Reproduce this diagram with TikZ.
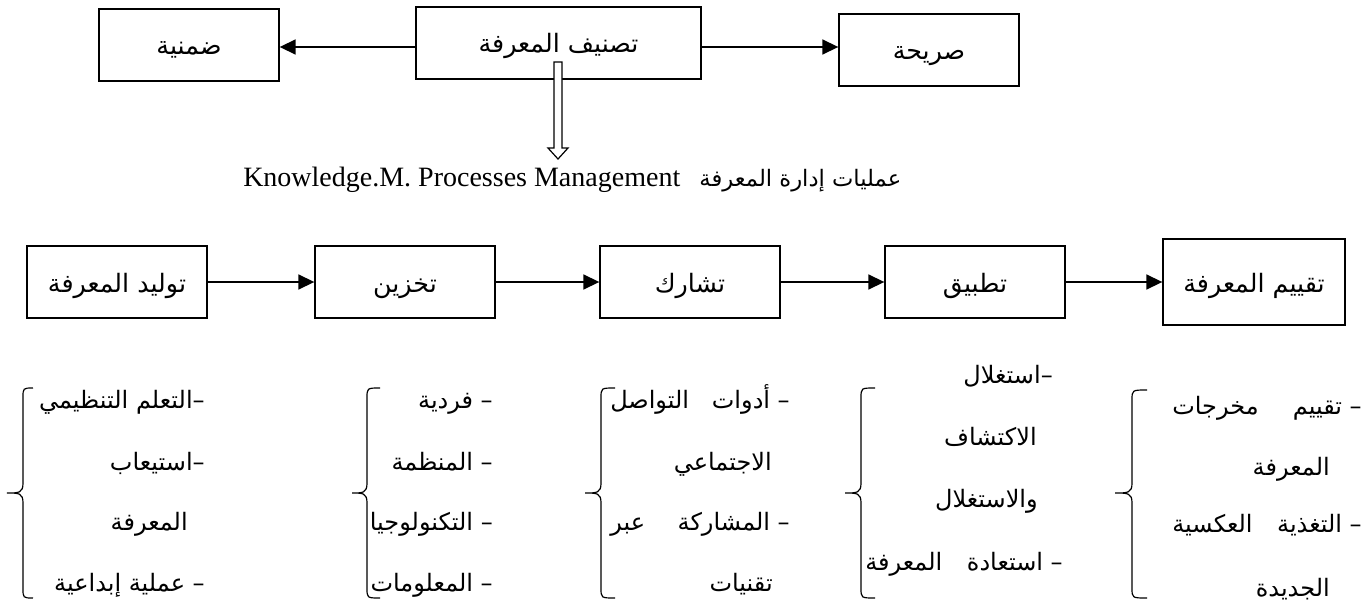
\documentclass[tikz,border=0pt]{standalone}
\usepackage{fontspec}
\setmainfont{Liberation Serif}
\newfontfamily\arfont[Script=Arabic]{DejaVu Sans}
\TeXXeTstate=1
\usetikzlibrary{arrows.meta,calc}
\newcommand\AR[1]{\beginR #1\endR}
% left curly brace: tip x, spine x, hook x, top y, middle y, bottom y
\newcommand\lbrc[6]{%
  \draw[brc] (#3,#4) .. controls (#2,#4) .. (#2,#4+10) -- (#2,#5-10)
    .. controls (#2,#5) and (#2-4,#5) .. (#1,#5)
    .. controls (#2-4,#5) and (#2,#5) .. (#2,#5+10) -- (#2,#6-10)
    .. controls (#2,#6) .. (#3,#6);}
\begin{document}
\begin{tikzpicture}[x=0.75pt,y=-0.75pt,
  box/.style={draw, line width=0.9pt, minimum width=135pt, minimum height=54pt,
    inner sep=0pt, text height=15pt, text depth=0pt,
    font=\arfont\fontsize{19}{22}\selectfont},
  flow/.style={line width=1.8pt, -{Triangle[length=12pt,width=11pt]}},
  brc/.style={line width=0.9pt},
  item/.style={inner sep=0pt, font=\arfont\fontsize{18}{21}\selectfont},
  itemR/.style={item, anchor=base east},
  itemL/.style={item, anchor=base west},
]
\useasboundingbox (0,0) rectangle (1363,610);

% classification of knowledge
\node[box] (tacit) at (189,45) {\AR{ضمنية}};
\node[box, minimum width=213.75pt] (cls) at (558.5,43) {\AR{تصنيف المعرفة}};
\node[box] (expl) at (929,50) {\AR{صريحة}};
\draw[flow] ([yshift=-3pt]cls.west) -- ([yshift=-3pt]cls.west -| tacit.east);
\draw[flow] ([yshift=-3pt]cls.east) -- ([yshift=-3pt]cls.east -| expl.west);

% heading of the processes
\node[anchor=base west, inner sep=0pt, font=\fontsize{21}{24}\selectfont] (head) at (243,186)
  {Knowledge.M. Processes Management};
\node[anchor=base west, inner sep=0pt, font=\arfont\fontsize{17}{20}\selectfont] (headar)
  at ([xshift=14pt]head.base east) {\AR{عمليات إدارة المعرفة}};

% hollow double arrow from the classification down to the heading
\coordinate (da) at (558,62);
\coordinate (db) at (558,159);
\draw[line width=0.9pt, fill=white]
  ($(da)+(-4,0)$) -- ($(db)+(-4,-11)$) -- ($(db)+(-10,-11)$) -- (db)
  -- ($(db)+(10,-11)$) -- ($(db)+(4,-11)$) -- ($(da)+(4,0)$) -- cycle;

% the five processes
\node[box] (p1) at (117,282) {\AR{توليد المعرفة}};
\node[box] (p2) at (405,282) {\AR{تخزين}};
\node[box] (p3) at (690,282) {\AR{تشارك}};
\node[box] (p4) at (975,282) {\AR{تطبيق}};
\node[box, minimum width=136.5pt, minimum height=64.5pt] (p5) at (1254,282) {\AR{تقييم المعرفة}};
\draw[flow] (p1) -- (p2);
\draw[flow] (p2) -- (p3);
\draw[flow] (p3) -- (p4);
\draw[flow] (p4) -- (p5);

% braces
\lbrc{7}{23}{33}{388}{493}{598}
\lbrc{352}{367}{380}{388}{493}{598}
\lbrc{585}{601}{615}{388}{493}{598}
\lbrc{845}{861}{875}{388}{493}{598}
\lbrc{1115}{1132}{1147}{390}{493}{598}

% column 1
\node[itemR] (a1) at (205,408) {\AR{–التعلم التنظيمي}};
\node[itemR] (a2) at (205,470) {\AR{–استيعاب}};
\node[itemR] (a3) at (188,530) {\AR{المعرفة}};
\node[itemR] (a4) at (205,591) {\AR{– عملية إبداعية}};

% column 2
\node[itemR] (b1) at (493,408) {\AR{– فردية}};
\node[itemR] (b2) at (493,470) {\AR{– المنظمة}};
\node[itemR] (b3) at (493,530) {\AR{– التكنولوجيا}};
\node[itemR] (b4) at (493,591) {\AR{– المعلومات}};

% column 3
\node[itemR] (c1) at (790,408) {\AR{– أدوات}};
\node[itemL] (c1b) at (610,408) {\AR{التواصل}};
\node[itemR] (c2) at (772,470) {\AR{الاجتماعي}};
\node[itemR] (c3) at (790,530) {\AR{– المشاركة}};
\node[itemL] (c3b) at (610,530) {\AR{عبر}};
\node[itemR] (c4) at (773,591) {\AR{تقنيات}};

% column 4
\node[itemR] (d0) at (1053,383) {\AR{–استغلال}};
\node[itemR] (d1) at (1037,445) {\AR{الاكتشاف}};
\node[itemR] (d2) at (1038,507) {\AR{والاستغلال}};
\node[itemR] (d3) at (1063,570) {\AR{– استعادة}};
\node[itemL] (d3b) at (865,570) {\AR{المعرفة}};

% column 5
\node[itemR] (e1) at (1362,414) {\AR{– تقييم}};
\node[itemL] (e1b) at (1172,414) {\AR{مخرجات}};
\node[itemR] (e2) at (1330,475) {\AR{المعرفة}};
\node[itemR] (e3) at (1362,532) {\AR{– التغذية}};
\node[itemL] (e3b) at (1172,532) {\AR{العكسية}};
\node[itemR] (e4) at (1330,596) {\AR{الجديدة}};
\end{tikzpicture}
\end{document}
